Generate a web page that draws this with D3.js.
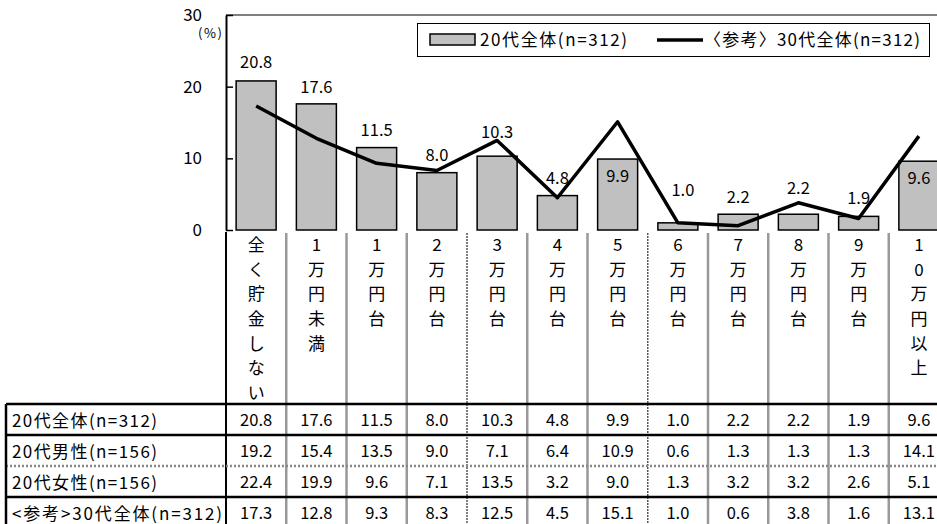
<!DOCTYPE html>
<html>
<head>
<meta charset="utf-8">
<script src="https://cdn.jsdelivr.net/npm/d3@7"></script>
<style>
  html, body { margin: 0; padding: 0; background: #fff; }
  svg { display: block; }
  text { font-family: "Noto Sans CJK JP", "Noto Sans", sans-serif; fill: #000; }
</style>
</head>
<body>
<svg id="chart" width="937" height="524"></svg>
<script>
// Monthly savings amount by bracket (%)
const categories = ["全く貯金しない", "1万円未満", "1万円台", "2万円台", "3万円台", "4万円台",
                    "5万円台", "6万円台", "7万円台", "8万円台", "9万円台", "10万円以上"];
const rowNames = ["20代全体(n=312)", "20代男性(n=156)", "20代女性(n=156)", "<参考>30代全体(n=312)"];
const all20    = [20.8, 17.6, 11.5, 8.0, 10.3, 4.8, 9.9, 1.0, 2.2, 2.2, 1.9, 9.6];
const male20   = [19.2, 15.4, 13.5, 9.0, 7.1, 6.4, 10.9, 0.6, 1.3, 1.3, 1.3, 14.1];
const female20 = [22.4, 19.9, 9.6, 7.1, 13.5, 3.2, 9.0, 1.3, 3.2, 3.2, 2.6, 5.1];
const all30    = [17.3, 12.8, 9.3, 8.3, 12.5, 4.5, 15.1, 1.0, 0.6, 3.8, 1.6, 13.1];
const yTicks   = [0, 10, 20, 30];
const legendBar  = "20代全体(n=312)";
const legendLine = "〈参考〉30代全体(n=312)";

// Per-label vertical nudges (px) so value labels clear the line
const labelNudge = [-1, 1, 0, 0, -6, 0, 35, -15, 1, -8, 0, 35];
const labelShiftX = [0, 0, 0, 0, 0, 0, 0, 5, 0, 0, 0, 0];

const svg = d3.select("#chart");
const plotLeft = 226, plotTop = 15, plotBottom = 230;
const colW = 60.25;

const x = d3.scaleBand()
  .domain(categories)
  .range([plotLeft, plotLeft + colW * categories.length])
  .paddingInner(0).paddingOuter(0);
const barW = 40;
const cx = d => x(d) + x.bandwidth() / 2;

const y = d3.scaleLinear().domain([0, 30]).range([plotBottom, plotTop]);

// top frame line of the plot area
svg.append("line")
  .attr("x1", plotLeft).attr("x2", 937)
  .attr("y1", plotTop).attr("y2", plotTop)
  .attr("stroke", "#808080").attr("stroke-width", 2);

// y axis
const yAxis = d3.axisLeft(y).tickValues(yTicks).tickFormat(d3.format("d"))
  .tickSizeInner(-7).tickSizeOuter(0).tickPadding(24);
const gy = svg.append("g").attr("transform", `translate(${plotLeft},0)`).call(yAxis);
gy.select(".domain").attr("stroke", "#000").attr("stroke-width", 2);
gy.selectAll(".tick line").attr("stroke", "#000").attr("stroke-width", 1.5);
gy.selectAll(".tick text").attr("font-size", 17).attr("font-family", "Liberation Sans, Arial, sans-serif");
svg.append("text").attr("x", 210).attr("y", 33).attr("dy", "0.36em").attr("text-anchor", "middle")
  .attr("font-size", 13).attr("textLength", 24).attr("lengthAdjust", "spacing").text("(%)");

// bars
svg.append("g").selectAll("rect").data(all20).join("rect")
  .attr("x", (d, i) => cx(categories[i]) - barW / 2)
  .attr("y", d => y(d))
  .attr("width", barW)
  .attr("height", d => y(0) - y(d))
  .attr("fill", "#c0c0c0")
  .attr("stroke", "#000").attr("stroke-width", 1.5);

// line series
const line = d3.line().x((d, i) => cx(categories[i])).y(d => y(d));
svg.append("path").datum(all30)
  .attr("d", line)
  .attr("fill", "none").attr("stroke", "#000")
  .attr("stroke-width", 3.5).attr("stroke-linejoin", "round");

// bar value labels
svg.append("g").selectAll("text").data(all20).join("text")
  .attr("x", (d, i) => cx(categories[i]) + labelShiftX[i])
  .attr("y", (d, i) => y(d) - 18 + labelNudge[i])
  .attr("dy", "0.36em")
  .attr("text-anchor", "middle")
  .attr("font-size", 16.5)
  .attr("font-family", "Liberation Sans, Arial, sans-serif")
  .text(d => d.toFixed(1));

// legend
const lg = svg.append("g");
lg.append("rect").attr("x", 417.5).attr("y", 23.5).attr("width", 512).attr("height", 33)
  .attr("fill", "#fff").attr("stroke", "#000").attr("stroke-width", 1);
lg.append("rect").attr("x", 430).attr("y", 34).attr("width", 45).attr("height", 11)
  .attr("fill", "#c0c0c0").attr("stroke", "#000").attr("stroke-width", 1.5);
lg.append("text").attr("x", 480).attr("y", 40).attr("dy", "0.36em")
  .attr("font-size", 17).attr("textLength", 147).attr("lengthAdjust", "spacing")
  .text(legendBar);
lg.append("line").attr("x1", 657).attr("x2", 703).attr("y1", 40).attr("y2", 40)
  .attr("stroke", "#000").attr("stroke-width", 3.5);
lg.append("text").attr("x", 704).attr("y", 40).attr("dy", "0.36em")
  .attr("font-size", 17).attr("textLength", 216).attr("lengthAdjust", "spacing")
  .text(legendLine);

// category column separators (through category area and table)
const tableTop = 404, rowH = 31;
const sepXs = d3.range(1, categories.length + 1).map(i => plotLeft + i * colW);
svg.append("g").selectAll("line").data(sepXs).join("line")
  .attr("x1", d => d).attr("x2", d => d)
  .attr("y1", 233).attr("y2", 524)
  .attr("stroke", (d, i) => (i === 3 || i === 6) ? "#555" : "#999")
  .attr("stroke-width", (d, i) => (i === 3 || i === 6) ? 1.5 : 2.5)
  .attr("stroke-dasharray", (d, i) => (i === 3 || i === 6) ? "2,1" : null);
// left black border of category/table grid
svg.append("line").attr("x1", plotLeft).attr("x2", plotLeft)
  .attr("y1", 232).attr("y2", 524).attr("stroke", "#000").attr("stroke-width", 2);

// vertical category labels, one character per line
const catG = svg.append("g");
categories.forEach(c => {
  Array.from(c).forEach((ch, j) => {
    catG.append("text")
      .attr("x", cx(c)).attr("y", 245 + j * 24.6)
      .attr("dy", "0.36em").attr("text-anchor", "middle")
      .attr("font-size", 17).text(ch);
  });
});

// data table
const tableRows = [all20, male20, female20, all30];
const rowLabelWidths = [145, 145, 145, 210];
const hLines = [
  { y: tableTop, color: "#000", dash: null },
  { y: tableTop + rowH, color: "#000", dash: null },
  { y: tableTop + rowH * 2, color: "#888", dash: "2,2" },
  { y: tableTop + rowH * 3, color: "#000", dash: null }
];
svg.append("g").selectAll("line").data(hLines).join("line")
  .attr("x1", 6).attr("x2", 937)
  .attr("y1", d => d.y).attr("y2", d => d.y)
  .attr("stroke", d => d.color).attr("stroke-width", 2.5)
  .attr("stroke-dasharray", d => d.dash);
svg.append("line").attr("x1", 6).attr("x2", 6).attr("y1", tableTop).attr("y2", 524)
  .attr("stroke", "#000").attr("stroke-width", 2.5);

const tg = svg.append("g");
tableRows.forEach((row, r) => {
  const ty = tableTop + rowH * r + rowH / 2 + 1;
  tg.append("text").attr("x", 12).attr("y", ty).attr("dy", "0.36em")
    .attr("font-size", 17).attr("textLength", rowLabelWidths[r]).attr("lengthAdjust", "spacing")
    .text(rowNames[r]);
  row.forEach((v, i) => {
    tg.append("text").attr("x", cx(categories[i])).attr("y", ty).attr("dy", "0.36em")
      .attr("text-anchor", "middle").attr("font-size", 16.5)
      .attr("font-family", "Liberation Sans, Arial, sans-serif")
      .text(v.toFixed(1));
  });
});
</script>
</body>
</html>
